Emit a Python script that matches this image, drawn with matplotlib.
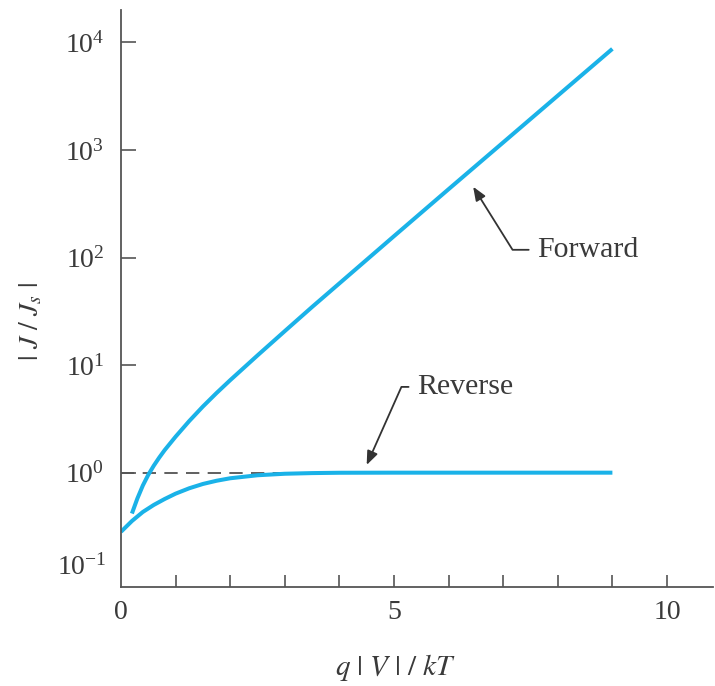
import matplotlib
matplotlib.use("Agg")
import matplotlib.pyplot as plt
from matplotlib.ticker import LogFormatterMathtext, NullLocator

# values
fwd_x = [0.2, 0.3, 0.4, 0.5, 0.6, 0.7, 0.8, 1.0, 1.25, 1.5, 1.75, 2.0, 2.5, 3.0,
         3.5, 4.0, 5.0, 6.0, 7.0, 8.0, 9.0]
fwd_y = [0.417, 0.575, 0.759, 0.955, 1.16, 1.38, 1.62, 2.16, 3.02, 4.12, 5.50, 7.24,
         12.3, 20.7, 34.7, 57.5, 158, 432, 1175, 3200, 8710]

rev_x = [0, 0.2, 0.4, 0.6, 0.8, 1.0, 1.25, 1.5, 1.75, 2.0, 2.5, 3.0, 3.5, 4.0,
         5.0, 6.0, 7.0, 8.0, 9.0]
rev_y = [0.282, 0.355, 0.431, 0.501, 0.569, 0.638, 0.716, 0.785, 0.841, 0.887,
         0.946, 0.977, 0.991, 0.998, 1.0, 1.0, 1.0, 1.0, 1.0]

ref_x = [0, 3.0]
ref_y = [1.0, 1.0]

x_ticks = [1, 2, 3, 4, 5, 6, 7, 8, 9, 10]
x_labels = {5: "5", 10: "10"}
y_ticks = [1e0, 1e1, 1e2, 1e3, 1e4]

plt.rcParams["font.family"] = "Liberation Serif"
plt.rcParams["mathtext.fontset"] = "stix"

blue = "#1ab2e8"
grey = "#555555"
txt = "#3a3a3a"

fig = plt.figure(figsize=(7.15, 6.86), dpi=100)
ax = fig.add_axes([0.1692, 0.1443, 0.8278, 0.8411])

ax.plot(ref_x, ref_y, color="#444444", lw=1.2, dashes=(8, 5), zorder=1)
ax.plot(rev_x, rev_y, color=blue, lw=2.9, solid_capstyle="butt", zorder=2)
ax.plot(fwd_x, fwd_y, color=blue, lw=2.9, solid_capstyle="butt", zorder=2)

ax.set_yscale("log")
ax.set_xlim(0, 10.84)
ax.set_ylim(0.0865, 2.0e4)

for s in ["top", "right"]:
    ax.spines[s].set_visible(False)
for s in ["left", "bottom"]:
    ax.spines[s].set_color(grey)
    ax.spines[s].set_linewidth(1.3)

ax.set_xticks(x_ticks)
ax.set_xticklabels([x_labels.get(t, "") for t in x_ticks])
ax.set_yticks(y_ticks)
ax.yaxis.set_major_formatter(LogFormatterMathtext())
ax.yaxis.set_minor_locator(NullLocator())
ax.tick_params(axis="y", direction="in", length=11, width=1.2, color=grey,
               labelsize=20, labelcolor=txt, pad=12)
ax.tick_params(axis="x", direction="in", length=9, width=1.2, color=grey,
               labelsize=20, labelcolor=txt, pad=9)

# "0" at the origin and 10^-1 without a tick mark
ax.annotate("0", xy=(0, 0), xycoords="axes fraction", xytext=(0, -9),
            textcoords="offset points", ha="center", va="top", fontsize=20, color=txt)
ax.annotate(r"$\mathdefault{10^{-1}}$", xy=(0, 0.1), xycoords=("axes fraction", "data"),
            xytext=(-10, 9), textcoords="offset points", ha="right", va="center",
            fontsize=20, color=txt)

ax.set_xlabel(r"$q\ |\ V\ |\ /\ kT$", fontsize=21, color=txt, va="center")
ax.xaxis.set_label_coords(0.463, -0.14)
ax.set_ylabel(r"$|\ J\ /\ J_s\ |$", fontsize=20, color=txt, va="center")
ax.yaxis.set_label_coords(-0.152, 0.461)

arrow = dict(arrowstyle="-|>,head_length=0.55,head_width=0.22", color="#333333",
             lw=1.3, mutation_scale=15, shrinkA=4, shrinkB=0)

ax.annotate("Forward", xy=(6.45, 455), xytext=(7.62, 118), fontsize=21.5, color=txt,
            ha="left", va="center",
            arrowprops=dict(arrow, connectionstyle="angle,angleA=0,angleB=-58,rad=0"))
ax.annotate("Reverse", xy=(4.5, 1.18), xytext=(5.42, 6.27), fontsize=21.5, color=txt,
            ha="left", va="center",
            arrowprops=dict(arrow, connectionstyle="angle,angleA=0,angleB=66,rad=0"))

fig.savefig("out.png", dpi=100)
